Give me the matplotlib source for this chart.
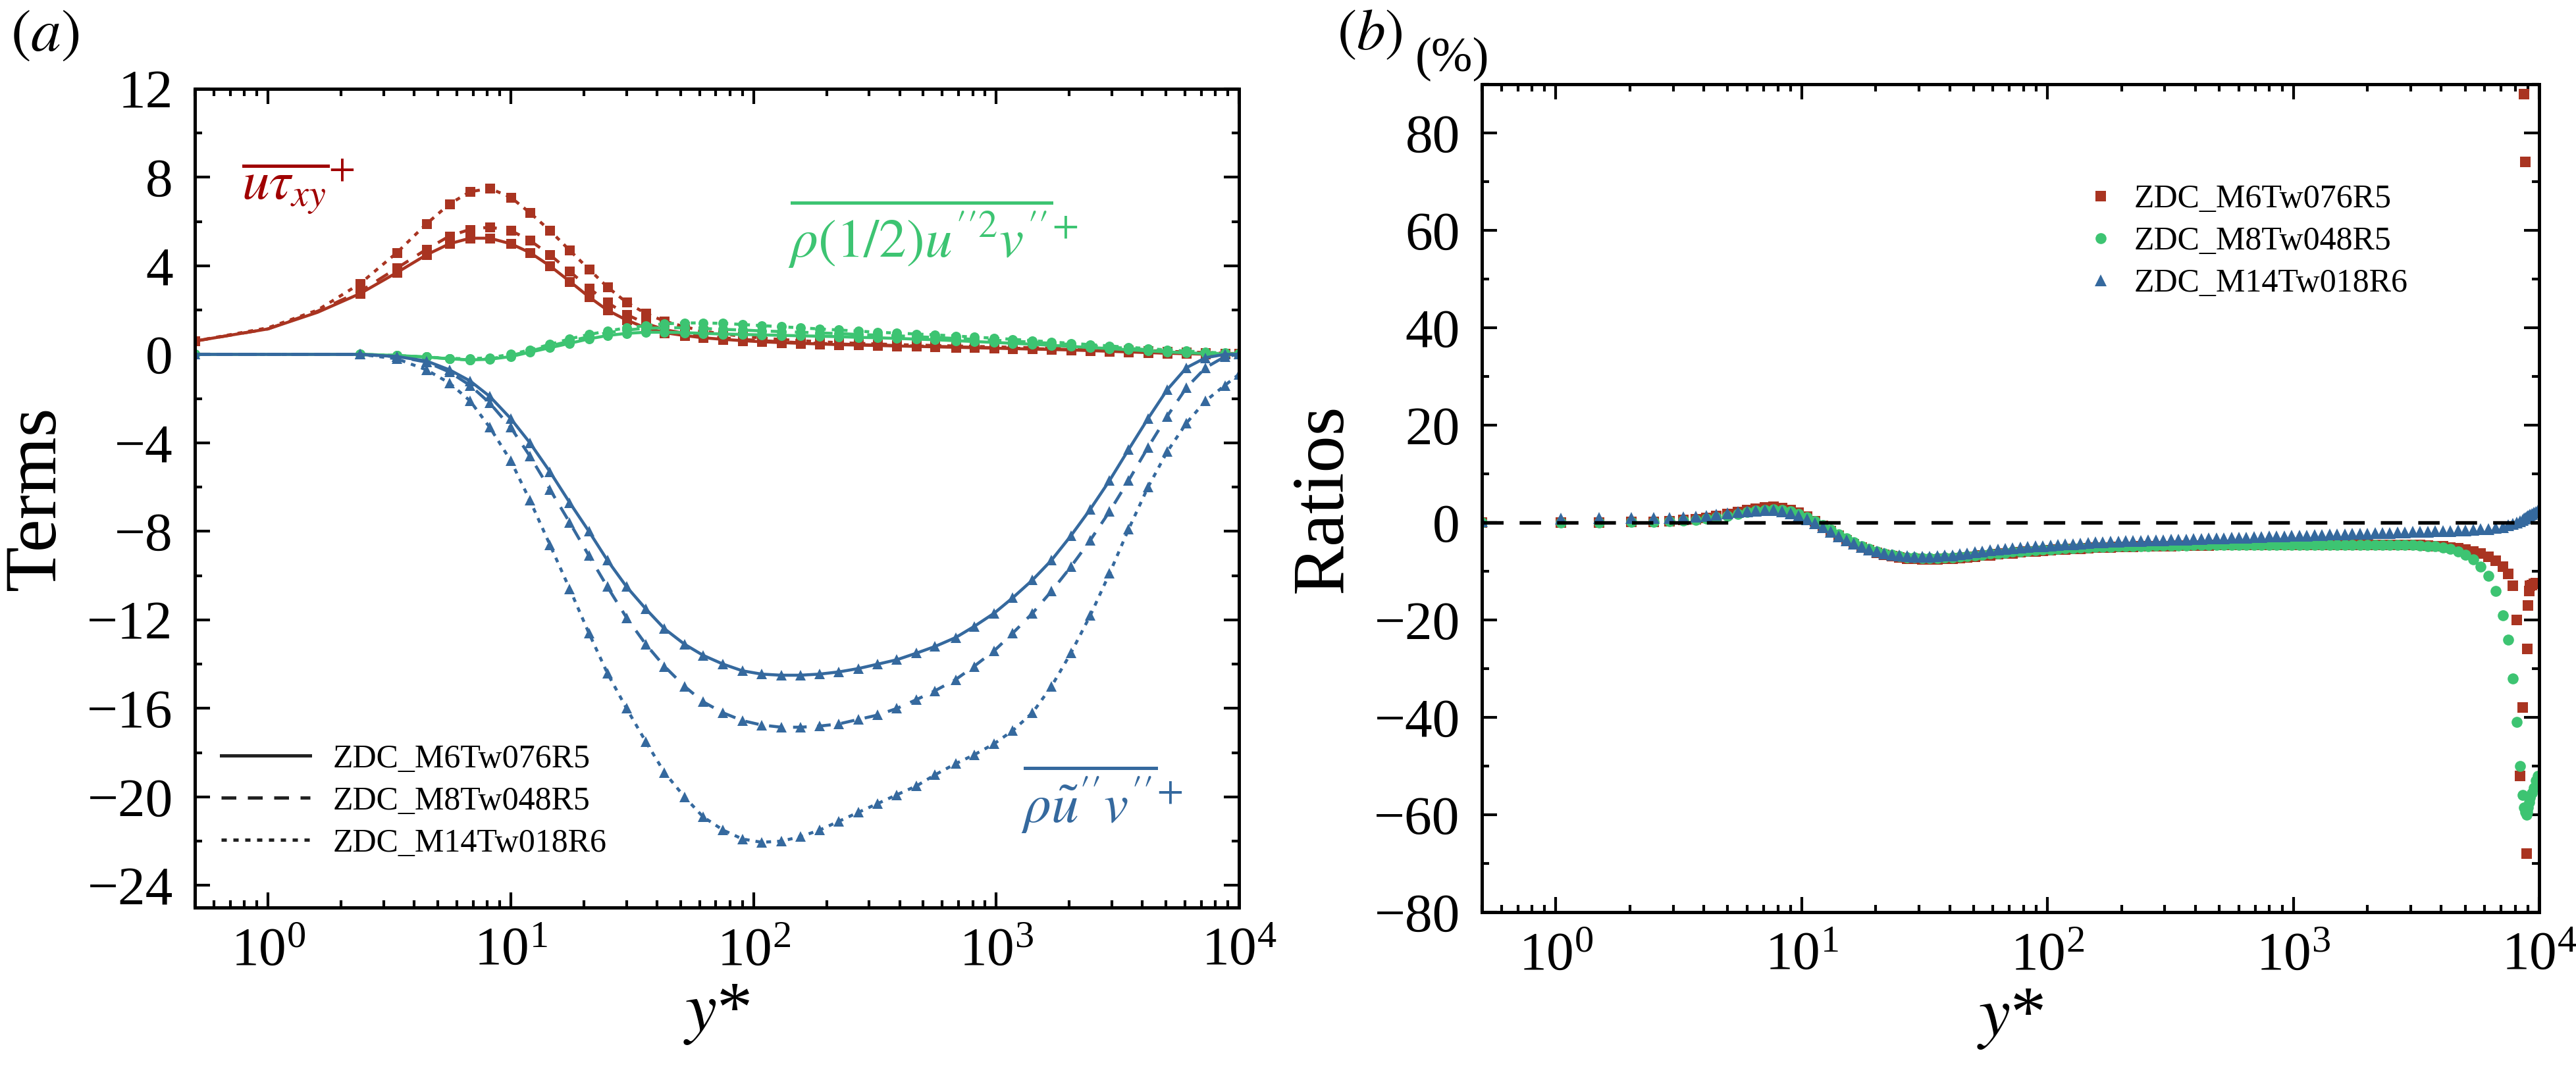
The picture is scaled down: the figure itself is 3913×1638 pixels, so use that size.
import matplotlib
matplotlib.use('Agg')
import matplotlib.pyplot as plt
from matplotlib.ticker import MultipleLocator, LogLocator, NullFormatter
from matplotlib.lines import Line2D

plt.rcParams['font.family'] = ['Liberation Serif', 'DejaVu Serif']
plt.rcParams['mathtext.fontset'] = 'stix'

cases = ['ZDC_M6Tw076R5', 'ZDC_M8Tw048R5', 'ZDC_M14Tw018R6']

# (a) terms, y* grid where markers sit
yl = [0.5, 1.0, 1.6, 2.4, 3.4, 4.5, 5.6, 6.8, 8.2, 10,
      12, 14.5, 17.5, 21, 25, 30, 36, 43, 52, 62,
      75, 90, 108, 130, 156, 187, 225, 270, 325, 390,
      470, 560, 680, 810, 980, 1170, 1410, 1690, 2030, 2440,
      2930, 3510, 4220, 5060, 6080, 7290, 8750, 10000]

utau_m6 = [0.6, 1.15, 1.9, 2.75, 3.7, 4.5, 5.0, 5.25, 5.25, 5.0,
           4.6, 4.0, 3.3, 2.6, 2.0, 1.55, 1.2, 0.98, 0.85, 0.75,
           0.68, 0.62, 0.57, 0.53, 0.5, 0.47, 0.44, 0.42, 0.4, 0.38,
           0.36, 0.34, 0.32, 0.3, 0.28, 0.26, 0.24, 0.22, 0.2, 0.17,
           0.14, 0.11, 0.08, 0.05, 0.03, 0.01, 0.0, 0.0]
utau_m8 = [0.6, 1.15, 1.95, 2.85, 3.9, 4.75, 5.35, 5.65, 5.75, 5.6,
           5.15, 4.5, 3.75, 3.0, 2.35, 1.8, 1.4, 1.12, 0.95, 0.83,
           0.75, 0.68, 0.62, 0.57, 0.53, 0.5, 0.47, 0.44, 0.42, 0.4,
           0.38, 0.36, 0.34, 0.32, 0.3, 0.28, 0.26, 0.24, 0.22, 0.2,
           0.17, 0.14, 0.11, 0.08, 0.05, 0.03, 0.01, 0.0]
utau_m14 = [0.6, 1.2, 2.0, 3.2, 4.6, 5.9, 6.8, 7.35, 7.5, 7.1,
            6.4, 5.6, 4.7, 3.85, 3.05, 2.35, 1.85, 1.5, 1.25, 1.05,
            0.92, 0.82, 0.74, 0.67, 0.62, 0.57, 0.53, 0.5, 0.47, 0.44,
            0.42, 0.4, 0.38, 0.36, 0.34, 0.32, 0.3, 0.28, 0.26, 0.24,
            0.22, 0.2, 0.17, 0.14, 0.11, 0.08, 0.05, 0.03]

tke_m6 = [0.0, 0.0, 0.0, 0.0, -0.05, -0.12, -0.2, -0.25, -0.22, -0.1,
          0.1, 0.3, 0.5, 0.7, 0.85, 0.95, 1.0, 1.0, 0.98, 0.95,
          0.92, 0.9, 0.88, 0.86, 0.84, 0.82, 0.8, 0.77, 0.75, 0.72,
          0.69, 0.66, 0.62, 0.58, 0.54, 0.5, 0.46, 0.41, 0.36, 0.31,
          0.26, 0.21, 0.16, 0.11, 0.07, 0.04, 0.02, 0.01]
tke_m8 = [0.0, 0.0, 0.0, 0.0, -0.05, -0.12, -0.2, -0.25, -0.2, -0.05,
          0.15, 0.38, 0.6, 0.8, 0.98, 1.1, 1.18, 1.2, 1.2, 1.17,
          1.13, 1.1, 1.06, 1.03, 1.0, 0.97, 0.94, 0.9, 0.87, 0.84,
          0.8, 0.76, 0.72, 0.68, 0.64, 0.6, 0.55, 0.5, 0.45, 0.39,
          0.33, 0.27, 0.21, 0.15, 0.1, 0.06, 0.03, 0.01]
tke_m14 = [0.0, 0.0, 0.0, 0.0, -0.05, -0.12, -0.18, -0.2, -0.15, 0.0,
           0.2, 0.45, 0.7, 0.9, 1.05, 1.2, 1.3, 1.38, 1.42, 1.42,
           1.4, 1.35, 1.3, 1.25, 1.2, 1.15, 1.1, 1.05, 1.0, 0.96,
           0.92, 0.88, 0.83, 0.78, 0.73, 0.68, 0.62, 0.56, 0.5, 0.44,
           0.38, 0.32, 0.26, 0.2, 0.15, 0.1, 0.06, 0.03]

ruv_m6 = [0.0, 0.0, 0.0, 0.0, -0.1, -0.3, -0.7, -1.2, -1.9, -2.9,
          -4.0, -5.3, -6.7, -8.0, -9.3, -10.5, -11.5, -12.4, -13.1, -13.6,
          -14.0, -14.3, -14.45, -14.5, -14.5, -14.45, -14.35, -14.2, -14.0, -13.8,
          -13.5, -13.2, -12.8, -12.3, -11.7, -11.0, -10.2, -9.3, -8.2, -7.0,
          -5.7, -4.3, -2.9, -1.6, -0.6, -0.15, 0.0, 0.0]
ruv_m8 = [0.0, 0.0, 0.0, 0.0, -0.1, -0.35, -0.8, -1.4, -2.2, -3.3,
          -4.6, -6.1, -7.6, -9.1, -10.5, -11.9, -13.1, -14.1, -15.0, -15.7,
          -16.2, -16.55, -16.75, -16.85, -16.85, -16.8, -16.7, -16.5, -16.3, -16.0,
          -15.6, -15.2, -14.7, -14.1, -13.4, -12.6, -11.7, -10.7, -9.6, -8.4,
          -7.1, -5.7, -4.2, -2.8, -1.5, -0.6, -0.1, 0.0]
ruv_m14 = [0.0, 0.0, 0.0, 0.0, -0.2, -0.7, -1.3, -2.1, -3.3, -4.8,
           -6.6, -8.6, -10.6, -12.6, -14.4, -16.0, -17.5, -18.9, -20.0, -20.9,
           -21.5, -21.9, -22.05, -22.0, -21.8, -21.5, -21.1, -20.7, -20.3, -19.9,
           -19.5, -19.0, -18.5, -18.1, -17.6, -17.0, -16.2, -15.0, -13.5, -11.8,
           -9.9, -7.9, -6.0, -4.4, -3.1, -2.1, -1.4, -0.9]

# (b) ratios
yr = [0.5, 1.05, 1.5, 2.03, 2.5, 2.9, 3.3, 3.7, 4.1, 4.5,
      5.0, 5.5, 6.0, 6.5, 7.1, 7.7, 8.3, 9.0, 9.7, 10.5,
      11.3, 12.2, 13.1, 14.1, 15.2, 16.3, 17.5, 18.8, 20.2, 21.7,
      23.3, 25.0, 26.8, 28.8, 30.9, 33.2, 35.6, 38.2, 41.0, 44.0,
      47.2, 50.7, 54.4, 58.4, 62.7, 67.3, 72.2, 77.5, 83.2, 89.3,
      95.8, 103, 110, 118, 127, 136, 146, 157, 168, 181,
      194, 208, 223, 240, 257, 276, 296, 318, 341, 366,
      393, 422, 453, 486, 521, 560, 601, 645, 692, 743,
      797, 856, 918, 986, 1058, 1136, 1219, 1308, 1404, 1507,
      1618, 1736, 1864, 2000, 2147, 2304, 2473, 2654, 2849, 3058,
      3282, 3522, 3780, 4058, 4355, 4674, 5017, 5384, 5779, 6203,
      6657, 7145, 7500, 7800, 8100, 8350, 8550, 8700, 8800, 8880,
      8950, 9020, 9100, 9200, 9350, 9500, 9700, 9900]

ratio_m6 = [0.0, 0.0, 0.0, 0.1, 0.2, 0.3, 0.5, 0.7, 1.0, 1.3,
            1.7, 2.1, 2.5, 2.8, 3.1, 3.2, 3.0, 2.6, 2.0, 1.2,
            0.3, -0.7, -1.7, -2.7, -3.6, -4.4, -5.1, -5.7, -6.2, -6.6,
            -6.9, -7.2, -7.4, -7.5, -7.6, -7.6, -7.6, -7.5, -7.4, -7.3,
            -7.1, -7.0, -6.8, -6.7, -6.5, -6.4, -6.3, -6.1, -6.0, -5.9,
            -5.8, -5.7, -5.6, -5.5, -5.4, -5.35, -5.3, -5.2, -5.15, -5.1,
            -5.05, -5.0, -4.95, -4.9, -4.9, -4.85, -4.8, -4.8, -4.75, -4.75,
            -4.7, -4.7, -4.7, -4.65, -4.65, -4.6, -4.6, -4.6, -4.6, -4.6,
            -4.6, -4.6, -4.6, -4.6, -4.6, -4.6, -4.6, -4.6, -4.6, -4.6,
            -4.6, -4.6, -4.6, -4.6, -4.6, -4.6, -4.6, -4.6, -4.6, -4.6,
            -4.65, -4.7, -4.8, -4.9, -5.1, -5.3, -5.6, -6.0, -6.4, -7.0,
            -7.8, -9.0, -10.5, -13.0, -20.0, -52.0, -38.0, 88.0, 74.0, -68.0,
            -26.0, -17.0, -14.0, -13.0, -12.8, -12.6, -12.5, -12.5]
ratio_m8 = [0.0, 0.0, 0.0, 0.1, 0.2, 0.3, 0.4, 0.6, 0.8, 1.1,
            1.4, 1.8, 2.1, 2.4, 2.6, 2.7, 2.6, 2.3, 1.8, 1.1,
            0.3, -0.6, -1.5, -2.4, -3.3, -4.1, -4.8, -5.4, -5.9, -6.3,
            -6.6, -6.9, -7.1, -7.2, -7.3, -7.3, -7.3, -7.2, -7.1, -7.0,
            -6.9, -6.7, -6.6, -6.4, -6.3, -6.2, -6.0, -5.9, -5.8, -5.7,
            -5.6, -5.5, -5.4, -5.3, -5.25, -5.2, -5.1, -5.05, -5.0, -4.95,
            -4.9, -4.9, -4.85, -4.8, -4.8, -4.75, -4.75, -4.7, -4.7, -4.7,
            -4.65, -4.65, -4.65, -4.6, -4.6, -4.6, -4.6, -4.6, -4.6, -4.6,
            -4.6, -4.6, -4.6, -4.6, -4.6, -4.6, -4.6, -4.6, -4.6, -4.6,
            -4.6, -4.6, -4.6, -4.6, -4.6, -4.6, -4.6, -4.6, -4.6, -4.65,
            -4.7, -4.8, -4.9, -5.1, -5.4, -5.9, -6.6, -7.6, -9.0, -11.0,
            -14.0, -19.0, -24.0, -32.0, -41.0, -50.0, -56.0, -58.5, -59.5, -60.0,
            -59.5, -58.5, -57.5, -56.5, -55.5, -54.5, -53.0, -52.0]
ratio_m14 = [0.3, 0.8, 0.9, 1.0, 1.0, 1.0, 1.1, 1.2, 1.4, 1.6,
             1.9, 2.1, 2.3, 2.4, 2.5, 2.5, 2.3, 1.9, 1.4, 0.7,
             -0.1, -1.0, -1.9, -2.8, -3.6, -4.3, -5.0, -5.5, -6.0, -6.3,
             -6.6, -6.8, -6.9, -7.0, -7.0, -7.0, -6.9, -6.8, -6.7, -6.5,
             -6.3, -6.1, -5.9, -5.7, -5.55, -5.4, -5.25, -5.1, -5.0, -4.9,
             -4.8, -4.7, -4.6, -4.5, -4.4, -4.3, -4.2, -4.1, -4.0, -3.95,
             -3.9, -3.85, -3.8, -3.75, -3.7, -3.65, -3.6, -3.55, -3.5, -3.45,
             -3.4, -3.35, -3.3, -3.25, -3.2, -3.15, -3.1, -3.05, -3.0, -2.95,
             -2.9, -2.85, -2.8, -2.75, -2.7, -2.65, -2.6, -2.55, -2.5, -2.45,
             -2.4, -2.35, -2.3, -2.25, -2.2, -2.15, -2.1, -2.05, -2.0, -1.95,
             -1.9, -1.85, -1.8, -1.75, -1.7, -1.65, -1.6, -1.5, -1.4, -1.3,
             -1.1, -0.9, -0.6, -0.3, 0.0, 0.3, 0.6, 0.8, 1.0, 1.1,
             1.2, 1.3, 1.4, 1.6, 1.8, 2.0, 2.2, 2.4]

red = '#A93421'
green = '#3DC472'
blue = '#35699E'

line_styles = ['-', (0, (4.5, 3.5)), (0, (1.6, 2.0))]

fig = plt.figure(figsize=(3913 / 300, 1638 / 300), dpi=300)
ax1 = fig.add_axes([0.07565, 0.15812, 0.40532, 0.75946])
ax2 = fig.add_axes([0.57526, 0.15385, 0.41043, 0.76801])

for ax in (ax1, ax2):
    ax.set_xscale('log')
    ax.set_xlim(0.5, 1e4)
    ax.xaxis.set_major_locator(LogLocator(base=10, numticks=10))
    ax.xaxis.set_minor_locator(LogLocator(base=10, subs=range(2, 10), numticks=50))
    ax.xaxis.set_minor_formatter(NullFormatter())
    ax.tick_params(which='both', direction='in', top=True, right=True,
                   labelsize=20, width=1.0)
    ax.tick_params(which='major', length=5.5)
    ax.tick_params(which='minor', length=2.7)
    ax.tick_params(axis='y', pad=8)
    ax.tick_params(axis='x', pad=7)
    for s in ax.spines.values():
        s.set_linewidth(1.2)

# panel a: markers skip the two points closest to the wall
mark_idx = [0] + list(range(3, len(yl)))
terms = [(utau_m6, utau_m8, utau_m14, red, 's', 3.6),
         (tke_m6, tke_m8, tke_m14, green, 'o', 3.6),
         (ruv_m6, ruv_m8, ruv_m14, blue, '^', 4.0)]
for vals6, vals8, vals14, c, m, ms in terms:
    for vals, ls in zip((vals6, vals8, vals14), line_styles):
        ax1.plot(yl, vals, color=c, ls=ls, lw=1.1, marker=m, ms=ms, mec='none',
                 markevery=mark_idx)

ax1.set_ylim(-25, 12)
ax1.yaxis.set_major_locator(MultipleLocator(4))
ax1.yaxis.set_minor_locator(MultipleLocator(2))
ax1.set_ylabel('Terms', fontsize=27, labelpad=6)
ax1.set_xlabel(r'$y$*', fontsize=26, labelpad=2)

ax1.text(0.78, 7.0, r'$\overline{u\tau_{xy}}^{+}$', color='#A00000', fontsize=20,
         ha='left', va='baseline')
ax1.text(2180, 4.4, r'$\overline{\rho(1/2)u^{\prime\prime 2}v^{\prime\prime}}^{+}$',
         color=green, fontsize=20, ha='right', va='baseline')
ax1.text(1265, -21.15, r'$\overline{\rho\tilde{u}^{\prime\prime}v^{\prime\prime}}^{+}$',
         color=blue, fontsize=20, ha='left', va='baseline')

handles = [Line2D([], [], color='#222222', ls=ls, lw=1.2) for ls in line_styles]
ax1.legend(handles, cases, loc='center left', bbox_to_anchor=(0.025, 0.13),
           frameon=False, fontsize=12, handlelength=2.7, handletextpad=0.7,
           labelspacing=0.35, borderpad=0, borderaxespad=0)

# panel b
ax2.plot(yr, ratio_m6, ls='none', marker='s', ms=3.8, color=red, mec='none', label=cases[0])
ax2.plot(yr, ratio_m8, ls='none', marker='o', ms=4.0, color=green, mec='none', label=cases[1])
ax2.plot(yr, ratio_m14, ls='none', marker='^', ms=4.4, color=blue, mec='none', label=cases[2])
ax2.axhline(0, color='black', lw=1.3, ls=(0, (6, 4.5)), zorder=5)

ax2.set_ylim(-80, 90)
ax2.yaxis.set_major_locator(MultipleLocator(20))
ax2.yaxis.set_minor_locator(MultipleLocator(10))
ax2.set_ylabel('Ratios', fontsize=27, labelpad=6)
ax2.set_xlabel(r'$y$*', fontsize=26, labelpad=2)
ax2.text(0.007, 1.003, '(%)', transform=ax2.transAxes, ha='right', va='bottom', fontsize=18)
ax2.legend(loc='center left', bbox_to_anchor=(0.57, 0.81), frameon=False, fontsize=12,
           handlelength=1.0, handletextpad=0.5, labelspacing=0.35, borderpad=0,
           borderaxespad=0, markerscale=1.0)

fig.text(0.004, 0.992, r'$(a)$', fontsize=22, va='top', ha='left')
fig.text(0.519, 0.992, r'$(b)$', fontsize=21, va='top', ha='left')

fig.savefig('out.png', dpi=300)
